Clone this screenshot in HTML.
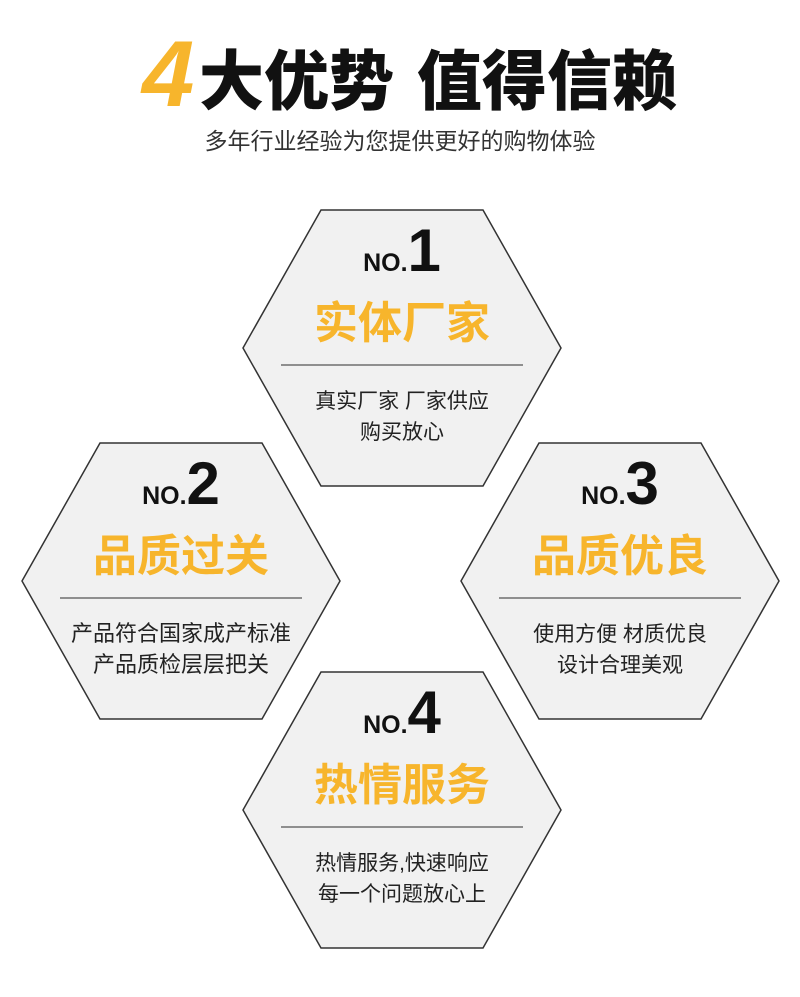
<!DOCTYPE html>
<html><head><meta charset="utf-8"><style>
body{margin:0;background:#fff;}
svg{display:block;}
text{font-family:"Liberation Sans","Noto Sans CJK SC",sans-serif;}
</style></head><body>
<svg width="800" height="997" viewBox="0 0 800 997">
<text x="142" y="106" font-size="94" font-weight="bold" font-style="italic" fill="#f7b52c">4</text>
<text x="199" y="104" font-size="65" font-weight="900" fill="#111">大优势</text>
<text x="417" y="104" font-size="65" font-weight="900" fill="#111">值得信赖</text>
<text x="400" y="149" text-anchor="middle" font-size="23" fill="#333">多年行业经验为您提供更好的购物体验</text>
<defs>
<g id="hx"><polygon points="0,138 78,0 240,0 318,138 240,276 78,276" fill="#f1f1f1" stroke="#333" stroke-width="1.5"/><line x1="38" y1="155" x2="280" y2="155" stroke="#555" stroke-width="1.2"/></g>
</defs>
<g transform="translate(243,210)"><use href="#hx"/>
<text x="159" y="61" text-anchor="middle" font-weight="bold" fill="#111"><tspan font-size="25">NO.</tspan><tspan font-size="60">1</tspan></text>
<text x="159" y="128" text-anchor="middle" font-size="44" font-weight="bold" fill="#f7b52c">实体厂家</text>
<text x="159" y="198" text-anchor="middle" font-size="21" fill="#222">真实厂家 厂家供应</text>
<text x="159" y="229" text-anchor="middle" font-size="21" fill="#222">购买放心</text></g>
<g transform="translate(22,443)"><use href="#hx"/>
<text x="159" y="61" text-anchor="middle" font-weight="bold" fill="#111"><tspan font-size="25">NO.</tspan><tspan font-size="60">2</tspan></text>
<text x="159" y="128" text-anchor="middle" font-size="44" font-weight="bold" fill="#f7b52c">品质过关</text>
<text x="159" y="198" text-anchor="middle" font-size="22" fill="#222">产品符合国家成产标准</text>
<text x="159" y="229" text-anchor="middle" font-size="22" fill="#222">产品质检层层把关</text></g>
<g transform="translate(461,443)"><use href="#hx"/>
<text x="159" y="61" text-anchor="middle" font-weight="bold" fill="#111"><tspan font-size="25">NO.</tspan><tspan font-size="60">3</tspan></text>
<text x="159" y="128" text-anchor="middle" font-size="44" font-weight="bold" fill="#f7b52c">品质优良</text>
<text x="159" y="198" text-anchor="middle" font-size="21" fill="#222">使用方便 材质优良</text>
<text x="159" y="229" text-anchor="middle" font-size="21" fill="#222">设计合理美观</text></g>
<g transform="translate(243,672)"><use href="#hx"/>
<text x="159" y="61" text-anchor="middle" font-weight="bold" fill="#111"><tspan font-size="25">NO.</tspan><tspan font-size="60">4</tspan></text>
<text x="159" y="128" text-anchor="middle" font-size="44" font-weight="bold" fill="#f7b52c">热情服务</text>
<text x="159" y="198" text-anchor="middle" font-size="21" fill="#222">热情服务,快速响应</text>
<text x="159" y="229" text-anchor="middle" font-size="21" fill="#222">每一个问题放心上</text></g>
</svg>
</body></html>
